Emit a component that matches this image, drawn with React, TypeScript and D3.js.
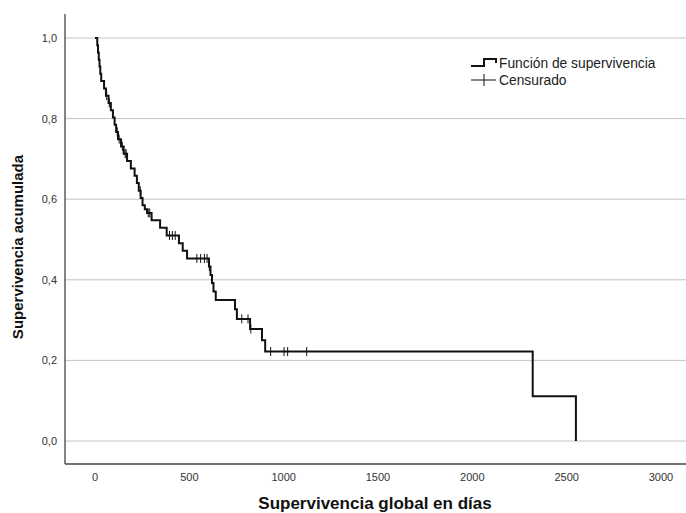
import React from "react";
import * as d3 from "d3";

const eventTimes = [0, 12, 16, 20, 24, 28, 33, 48, 58, 72, 84, 95, 104, 112, 122, 138, 152, 170, 190, 210, 222, 232, 242, 252, 264, 276, 300, 345, 380, 445, 465, 488, 604, 612, 620, 628, 640, 742, 752, 822, 885, 902, 2320, 2549];
const survival = [1, 0.982, 0.964, 0.946, 0.929, 0.911, 0.893, 0.875, 0.857, 0.839, 0.821, 0.803, 0.785, 0.767, 0.749, 0.731, 0.713, 0.695, 0.676, 0.658, 0.64, 0.621, 0.603, 0.585, 0.575, 0.566, 0.548, 0.529, 0.51, 0.491, 0.472, 0.453, 0.433, 0.412, 0.392, 0.371, 0.35, 0.327, 0.303, 0.278, 0.25, 0.222, 0.111, 0];
const censoredTimes = [62, 76, 118, 128, 145, 160, 165, 240, 282, 290, 395, 410, 425, 540, 560, 580, 594, 606, 778, 811, 826, 931, 1002, 1021, 1122];
const xTicks = [0, 500, 1000, 1500, 2000, 2500, 3000];
const yTicks = [0, 0.2, 0.4, 0.6, 0.8, 1.0];

const W = 686, H = 513;
const FONT = "'Liberation Sans', Arial, sans-serif";

function survAt(t: number): number {
  let s = 1;
  for (let i = 0; i < eventTimes.length; i++) {
    if (eventTimes[i] <= t) s = survival[i];
  }
  return s;
}

export default function App() {
  const x = d3.scaleLinear().domain([0, 3000]).range([95, 661]);
  const y = d3.scaleLinear().domain([0, 1]).range([441, 38]);
  const pts: [number, number][] = eventTimes.map((t, i) => [t, survival[i]]);
  const line = d3
    .line<[number, number]>()
    .x((d) => x(d[0]))
    .y((d) => y(d[1]))
    .curve(d3.curveStepAfter);
  const axisLeft = 65, axisTop = 14, axisBottom = 464;
  const fmt = (v: number) => v.toFixed(1).replace(".", ",");
  return (
    <svg width={W} height={H} style={{ position: "absolute", left: 0, top: 0, background: "#fff" }}>
      <rect x={0} y={0} width={W} height={H} fill="#fff" />
      {yTicks.map((v) => (
        <line key={"g" + v} x1={axisLeft} x2={W} y1={y(v)} y2={y(v)} stroke="#c4c4c4" strokeWidth={1} />
      ))}
      <line x1={axisLeft} x2={axisLeft} y1={axisTop} y2={axisBottom} stroke="#444" strokeWidth={1.3} />
      <line x1={axisLeft} x2={W} y1={axisBottom} y2={axisBottom} stroke="#444" strokeWidth={1.3} />
      {yTicks.map((v) => (
        <text key={"yt" + v} x={57} y={y(v) + 4} textAnchor="end" fontFamily={FONT} fontSize={11} fill="#333">
          {fmt(v)}
        </text>
      ))}
      {xTicks.map((v) => (
        <text key={"xt" + v} x={x(v)} y={481} textAnchor="middle" fontFamily={FONT} fontSize={11} fill="#333">
          {v}
        </text>
      ))}
      <path d={line(pts) || ""} fill="none" stroke="#111" strokeWidth={2} />
      {censoredTimes.map((t, i) => (
        <line key={"c" + i} x1={x(t)} x2={x(t)} y1={y(survAt(t)) - 4.5} y2={y(survAt(t)) + 4.5} stroke="#111" strokeWidth={1} />
      ))}
      {/* legend */}
      <path d="M471,66 H484 V59 H496 V63" fill="none" stroke="#111" strokeWidth={2} />
      <text x={499} y={68} fontFamily={FONT} fontSize={13.8} fill="#222">Función de supervivencia</text>
      <line x1={471} x2={496} y1={80} y2={80} stroke="#111" strokeWidth={1} />
      <line x1={484} x2={484} y1={74} y2={86} stroke="#111" strokeWidth={1} />
      <text x={499} y={84.5} fontFamily={FONT} fontSize={13.8} fill="#222">Censurado</text>
      <text x={375} y={508.5} textAnchor="middle" fontFamily={FONT} fontSize={17} fontWeight="bold" fill="#111">
        Supervivencia global en días
      </text>
      <text transform="translate(23,247) rotate(-90)" textAnchor="middle" fontFamily={FONT} fontSize={15} fontWeight="bold" fill="#111">
        Supervivencia acumulada
      </text>
    </svg>
  );
}
